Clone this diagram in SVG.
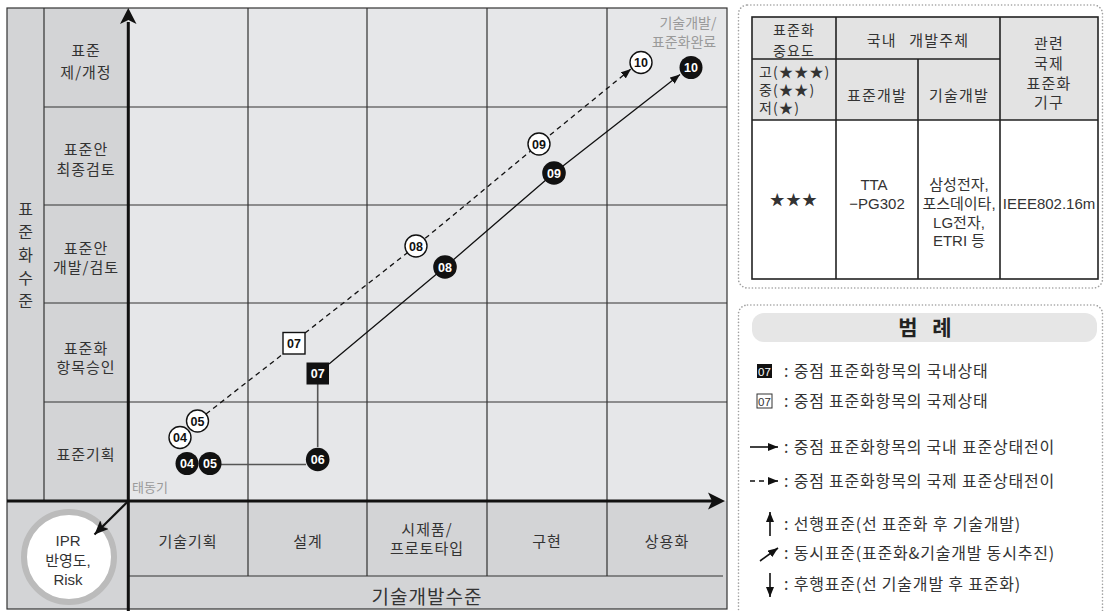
<svg xmlns="http://www.w3.org/2000/svg" width="1105" height="611" viewBox="0 0 1105 611">
<defs>
<style>
.k{font-family:"Noto Sans CJK KR","Noto Sans",sans-serif;fill:#333;text-anchor:middle;font-size:15px}
.m{font-family:"Liberation Sans","Noto Sans CJK KR",sans-serif;fill:#333;text-anchor:middle;font-size:15px}
.num{font-family:"Liberation Sans",Arial,sans-serif;font-weight:bold;font-size:12.5px;text-anchor:middle}
.gl{stroke:#333;stroke-width:1.2;fill:none}
.dk{fill:#d3d4d6}
.lt{fill:#e6e7e9}
.bn circle,.bn rect{fill:#111}
.bn text{fill:#fff}
.wn circle,.wn rect{fill:#fff;stroke:#111;stroke-width:1.4}
.wn text{fill:#111}
.dot{fill:none;stroke:#a0a0a0;stroke-width:1.6;stroke-dasharray:0.1 3.2;stroke-linecap:round}
.lg{font-family:"Noto Sans CJK KR",sans-serif;fill:#333;font-size:16px;letter-spacing:0.8px}
.tb{stroke:#222;stroke-width:1.6;fill:none}
.sm{font-size:14px}
</style>
<marker id="ah" viewBox="0 0 10 8" refX="10" refY="4" markerWidth="10" markerHeight="8" markerUnits="userSpaceOnUse" orient="auto"><path d="M0,0L10,4L0,8z" fill="#111"/></marker>
<marker id="ah2" viewBox="0 0 14 12" refX="14" refY="6" markerWidth="14" markerHeight="12" markerUnits="userSpaceOnUse" orient="auto"><path d="M0,0L14,6L0,12L3,6z" fill="#111"/></marker>
</defs>
<rect width="1105" height="611" fill="#fff"/>

<g id="chart">
<rect x="7" y="8" width="37" height="493" class="dk"/>
<rect x="44" y="8" width="84" height="493" class="dk"/>
<rect x="128" y="8" width="599" height="493" class="lt"/>
<rect x="7" y="501" width="121" height="108" class="dk"/>
<rect x="128" y="501" width="599" height="108" class="dk"/>
<path class="gl" d="M44,107H727M44,205H727M44,303H727M44,402H727M248,8V576M367,8V576M487,8V576M607,8V576M44,8V501M128,576H723"/>
<rect x="7" y="8" width="720" height="601" class="gl"/>
<path d="M128.3,22V611M7,501H712" stroke="#111" stroke-width="3" fill="none"/>
<path d="M128.3,8L136.5,24L128.3,20L120,24z" fill="#111"/>
<path d="M725,501L708,492.5L712,501L708,509.5z" fill="#111"/>
<g class="k">
<text x="25.5" y="215" font-size="16">표</text>
<text x="25.5" y="238" font-size="16">준</text>
<text x="25.5" y="261" font-size="16">화</text>
<text x="25.5" y="284" font-size="16">수</text>
<text x="25.5" y="307" font-size="16">준</text>
<text x="86" y="56" letter-spacing="1">표준</text>
<text x="86" y="78" letter-spacing="1">제/개정</text>
<text x="86" y="155" letter-spacing="1">표준안</text>
<text x="86" y="175" letter-spacing="1">최종검토</text>
<text x="86" y="254" letter-spacing="1">표준안</text>
<text x="86" y="273" letter-spacing="1">개발/검토</text>
<text x="86" y="354" letter-spacing="1">표준화</text>
<text x="86" y="373" letter-spacing="1">항목승인</text>
<text x="86" y="460" letter-spacing="1">표준기획</text>
<text x="188" y="547" letter-spacing="1">기술기획</text>
<text x="308" y="547" letter-spacing="1">설계</text>
<text x="427" y="535" letter-spacing="1">시제품/</text>
<text x="427" y="554" letter-spacing="1">프로토타입</text>
<text x="547" y="547" letter-spacing="1">구현</text>
<text x="667" y="547" letter-spacing="1">상용화</text>
<text x="427" y="604" font-size="19" letter-spacing="1">기술개발수준</text>
<text x="150" y="492" font-size="13" style="fill:#9a9a9a">태동기</text>
<text x="688" y="28" font-size="14" style="fill:#9a9a9a">기술개발/</text>
<text x="684" y="47" font-size="14" style="fill:#9a9a9a">표준화완료</text>
</g>
</g>

<g id="ipr">
<circle cx="69" cy="557" r="45" fill="#fff" stroke="#bbbbbb" stroke-width="6"/>
<text class="m" x="68" y="546">IPR</text>
<text class="m" x="68" y="566">반영도,</text>
<text class="m" x="68" y="585">Risk</text>
</g>

<g id="connectors">
<path d="M128.3,501L94.5,534.5" stroke="#111" stroke-width="2.2" fill="none" marker-end="url(#ah2)"/>
<path d="M221,464.5H306M317.7,447V384" stroke="#555" stroke-width="1.6" fill="none"/>
<path d="M329,364L445,267L554,173L680,74.5" stroke="#111" stroke-width="1.3" fill="none" marker-end="url(#ah)"/>
<path d="M206,414L283,354" stroke="#111" stroke-width="1.3" fill="none" stroke-dasharray="5 4"/>
<path d="M305,333L416,246L539,144L631,69" stroke="#111" stroke-width="1.3" fill="none" stroke-dasharray="5 4" marker-end="url(#ah)"/>
</g>

<g id="n-w04" class="wn"><circle cx="180" cy="437.5" r="11"/><text class="num" x="180" y="442">04</text></g>
<g id="n-w05" class="wn"><circle cx="197.5" cy="421" r="11"/><text class="num" x="197.5" y="425.5">05</text></g>
<g id="n-b04" class="bn"><circle cx="187" cy="463.5" r="11.5"/><text class="num" x="187" y="468">04</text></g>
<g id="n-b05" class="bn"><circle cx="210" cy="463.5" r="11.5"/><text class="num" x="210" y="468">05</text></g>
<g id="n-b06" class="bn"><circle cx="317.7" cy="459.5" r="11.8"/><text class="num" x="317.7" y="464">06</text></g>
<g id="n-b07" class="bn"><rect x="306.5" y="362.5" width="22.5" height="22"/><text class="num" x="317.7" y="378">07</text></g>
<g id="n-w07" class="wn"><rect x="283" y="332.5" width="22" height="21.5"/><text class="num" x="294" y="347.5">07</text></g>
<g id="n-w08" class="wn"><circle cx="416" cy="246" r="11"/><text class="num" x="416" y="250.5">08</text></g>
<g id="n-b08" class="bn"><circle cx="445" cy="267" r="11.8"/><text class="num" x="445" y="271.5">08</text></g>
<g id="n-w09" class="wn"><circle cx="539" cy="144" r="11"/><text class="num" x="539" y="148.5">09</text></g>
<g id="n-b09" class="bn"><circle cx="554" cy="173" r="11.8"/><text class="num" x="554" y="177.5">09</text></g>
<g id="n-w10" class="wn"><circle cx="641" cy="62.5" r="11"/><text class="num" x="641" y="67">10</text></g>
<g id="n-b10" class="bn"><circle cx="691" cy="67.5" r="11.5"/><text class="num" x="691" y="72">10</text></g>

<g id="table">
<rect x="738.5" y="5" width="364" height="283" rx="9" class="dot"/>
<rect x="752" y="17" width="84" height="103" fill="#e3e3e3"/>
<rect x="836" y="17" width="262" height="103" fill="#e3e3e3"/>
<rect x="752" y="120" width="346" height="159" fill="#fff"/>
<rect x="752" y="17" width="346" height="262" class="tb"/>
<path class="tb" d="M752,59H1000M752,120H1098M836,17V279M918,59V279M1000,17V279"/>
<g class="k" letter-spacing="1.2">
<text class="k sm" x="794" y="34.5">표준화</text>
<text class="k sm" x="794" y="55.5">중요도</text>
<text x="918" y="46" word-spacing="8">국내 개발주체</text>
<text x="1049" y="49">관련</text>
<text x="1049" y="69">국제</text>
<text x="1049" y="89">표준화</text>
<text x="1049" y="108">기구</text>
<text class="k sm" x="759" y="77" style="text-anchor:start">고(★★★)</text>
<text class="k sm" x="759" y="95" style="text-anchor:start">중(★★)</text>
<text class="k sm" x="759" y="113" style="text-anchor:start">저(★)</text>
<text x="877" y="101">표준개발</text>
<text x="959" y="101">기술개발</text>
<text x="794" y="205">★★★</text>
</g>
<g class="m">
<text x="874" y="190">TTA</text>
<text x="877" y="209">−PG302</text>
<text x="959" y="190">삼성전자,</text>
<text x="959" y="209">포스데이타,</text>
<text x="959" y="228">LG전자,</text>
<text x="959" y="246">ETRI 등</text>
<text x="1049" y="209">IEEE802.16m</text>
</g>
</g>

<g id="legend">
<rect x="738.5" y="305" width="364" height="330" rx="9" class="dot"/>
<rect x="752" y="313" width="345" height="29" rx="12" fill="#e6e6e6"/>
<text x="925" y="335" font-family="'Noto Sans CJK KR',sans-serif" font-weight="bold" font-size="21" fill="#222" text-anchor="middle" word-spacing="10">범 례</text>
<rect x="757" y="364" width="15" height="14" fill="#111"/>
<text x="764.5" y="375.5" font-family="'Liberation Sans',sans-serif" font-size="11.5" fill="#fff" text-anchor="middle">07</text>
<rect x="757" y="394" width="15" height="14" fill="#fff" stroke="#333" stroke-width="1"/>
<text x="764.5" y="405.5" font-family="'Liberation Sans',sans-serif" font-size="11.5" fill="#333" text-anchor="middle">07</text>
<path d="M750,447H778" stroke="#111" stroke-width="1.6" marker-end="url(#ah)"/>
<path d="M750,481H770" stroke="#111" stroke-width="1.6" stroke-dasharray="5 4"/>
<path d="M768,481H778" stroke="#111" stroke-width="1.6" marker-end="url(#ah)"/>
<path d="M770,536V512" stroke="#111" stroke-width="1.6" marker-end="url(#ah)"/>
<path d="M760,561L778,548" stroke="#111" stroke-width="1.6" marker-end="url(#ah)"/>
<path d="M770,573V597" stroke="#111" stroke-width="1.6" marker-end="url(#ah)"/>
<text class="lg" x="784" y="377">: 중점 표준화항목의 국내상태</text>
<text class="lg" x="784" y="407">: 중점 표준화항목의 국제상태</text>
<text class="lg" x="784" y="453">: 중점 표준화항목의 국내 표준상태전이</text>
<text class="lg" x="784" y="487">: 중점 표준화항목의 국제 표준상태전이</text>
<text class="lg" x="784" y="530">: 선행표준(선 표준화 후 기술개발)</text>
<text class="lg" x="784" y="559">: 동시표준(표준화&amp;기술개발 동시추진)</text>
<text class="lg" x="784" y="590">: 후행표준(선 기술개발 후 표준화)</text>
</g>
</svg>
